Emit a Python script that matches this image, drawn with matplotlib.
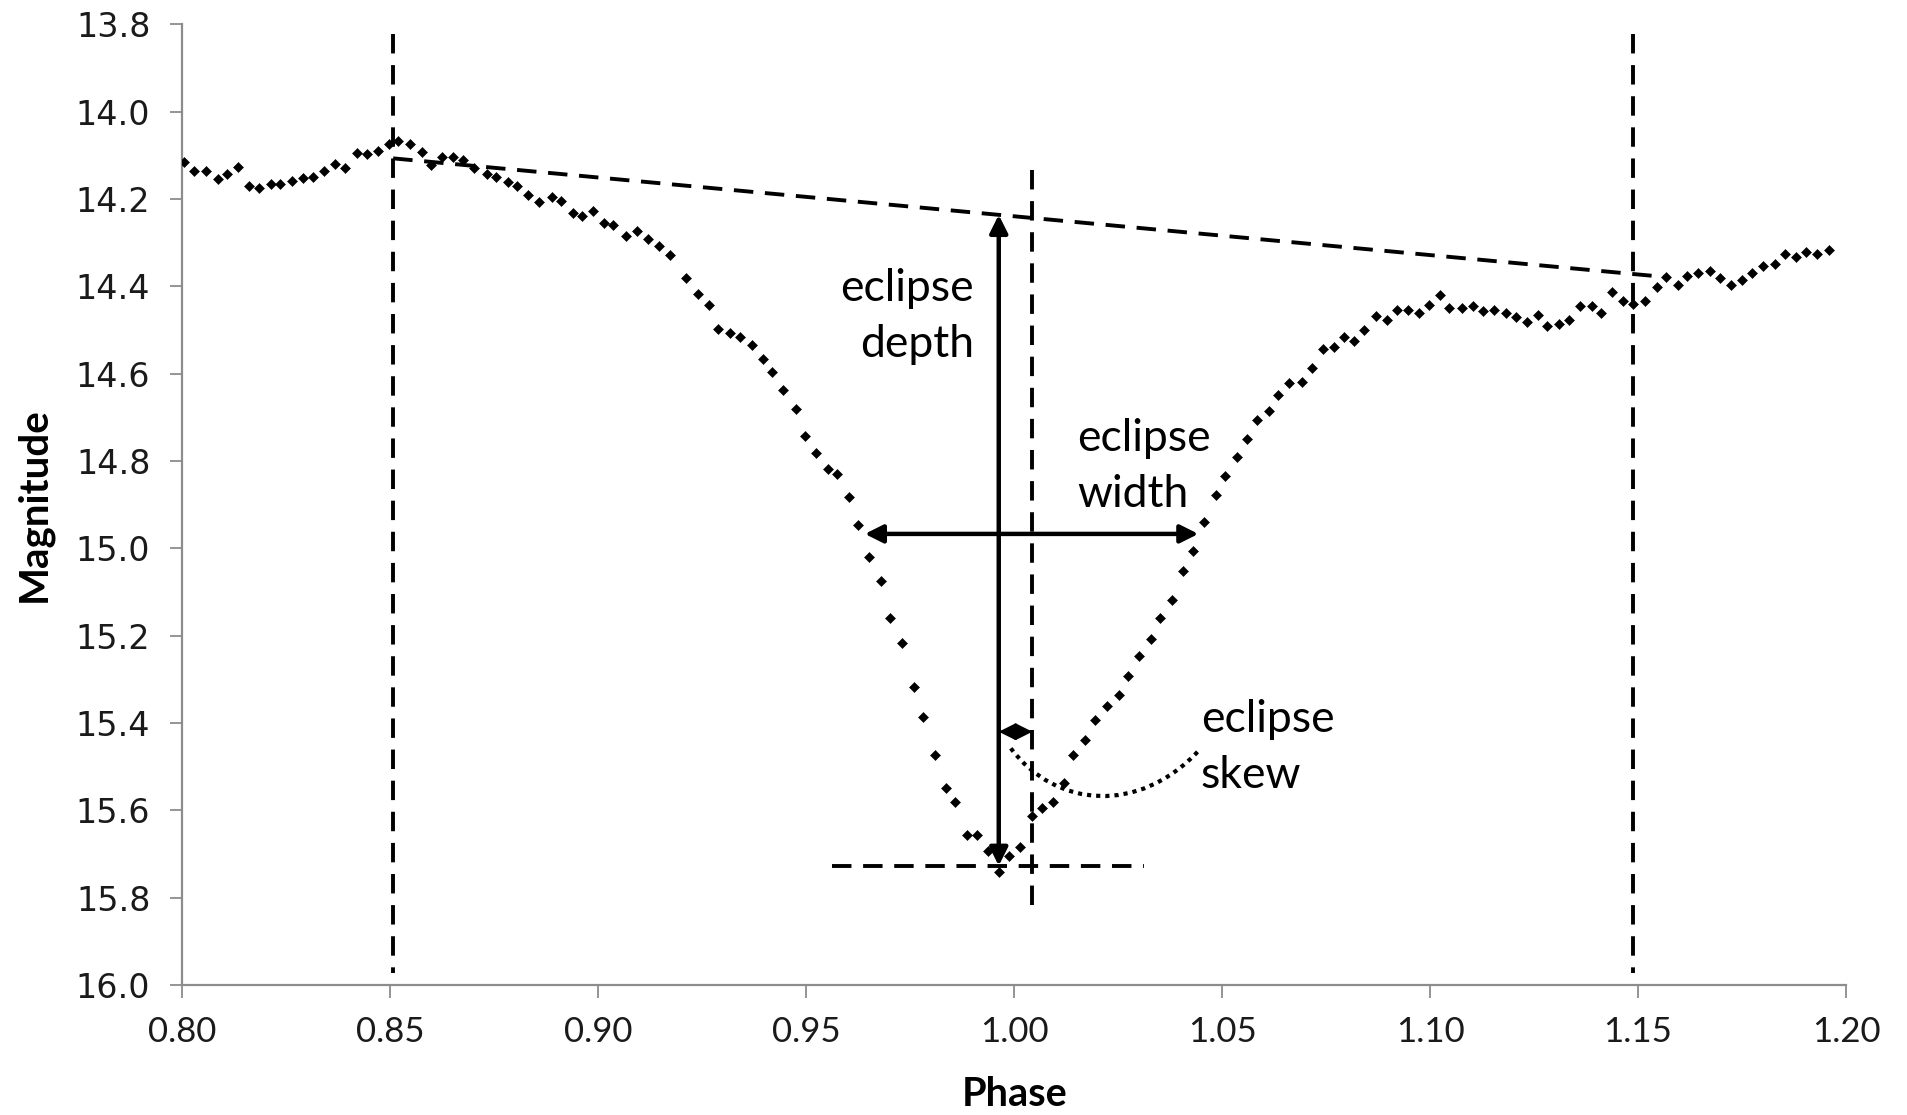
import matplotlib
matplotlib.use("Agg")
import matplotlib.pyplot as plt
from matplotlib.path import Path
from matplotlib.patches import PathPatch
import numpy as np

# Phase-folded light curve around the primary eclipse
phase = [
    0.8005, 0.8029, 0.8056, 0.8085, 0.8107, 0.8135, 0.8161, 0.8184, 0.8213, 0.8235,
    0.8263, 0.8291, 0.8314, 0.8340, 0.8367, 0.8392, 0.8419, 0.8445, 0.8470, 0.8498,
    0.8519, 0.8547, 0.8576, 0.8598, 0.8625, 0.8652, 0.8674, 0.8702, 0.8732, 0.8754,
    0.8782, 0.8804, 0.8832, 0.8858, 0.8888, 0.8911, 0.8939, 0.8962, 0.8988, 0.9014,
    0.9036, 0.9067, 0.9094, 0.9119, 0.9145, 0.9172, 0.9211, 0.9239, 0.9267, 0.9289,
    0.9317, 0.9341, 0.9369, 0.9396, 0.9419, 0.9445, 0.9476, 0.9497, 0.9524, 0.9553,
    0.9575, 0.9602, 0.9625, 0.9652, 0.9680, 0.9702, 0.9731, 0.9759, 0.9781, 0.9809,
    0.9836, 0.9859, 0.9887, 0.9910, 0.9938, 0.9964, 0.9988, 1.0014, 1.0044, 1.0066,
    1.0093, 1.0121, 1.0142, 1.0170, 1.0194, 1.0223, 1.0251, 1.0273, 1.0300, 1.0328,
    1.0351, 1.0379, 1.0407, 1.0431, 1.0457, 1.0485, 1.0507, 1.0536, 1.0559, 1.0585,
    1.0613, 1.0635, 1.0662, 1.0691, 1.0716, 1.0742, 1.0769, 1.0792, 1.0817, 1.0840,
    1.0870, 1.0897, 1.0920, 1.0948, 1.0974, 1.0998, 1.1024, 1.1046, 1.1076, 1.1103,
    1.1127, 1.1154, 1.1183, 1.1206, 1.1233, 1.1259, 1.1282, 1.1309, 1.1333, 1.1361,
    1.1389, 1.1410, 1.1438, 1.1465, 1.1489, 1.1517, 1.1545, 1.1567, 1.1595, 1.1617,
    1.1645, 1.1673, 1.1697, 1.1724, 1.1751, 1.1775, 1.1801, 1.1829, 1.1853, 1.1880,
    1.1903, 1.1930, 1.1958,
]
magnitude = [
    14.116, 14.137, 14.135, 14.154, 14.143, 14.127, 14.170, 14.176, 14.165, 14.165,
    14.158, 14.152, 14.149, 14.137, 14.120, 14.128, 14.095, 14.097, 14.089, 14.074,
    14.068, 14.073, 14.093, 14.122, 14.105, 14.104, 14.110, 14.128, 14.143, 14.149,
    14.160, 14.170, 14.190, 14.206, 14.195, 14.205, 14.233, 14.240, 14.227, 14.255,
    14.259, 14.285, 14.274, 14.292, 14.307, 14.328, 14.380, 14.417, 14.443, 14.497,
    14.506, 14.517, 14.534, 14.567, 14.597, 14.637, 14.680, 14.742, 14.782, 14.818,
    14.829, 14.882, 14.946, 15.020, 15.074, 15.159, 15.216, 15.318, 15.386, 15.474,
    15.549, 15.581, 15.657, 15.657, 15.693, 15.742, 15.704, 15.683, 15.613, 15.594,
    15.581, 15.538, 15.474, 15.440, 15.393, 15.362, 15.336, 15.292, 15.246, 15.208,
    15.160, 15.118, 15.053, 15.005, 14.940, 14.879, 14.835, 14.792, 14.750, 14.707,
    14.686, 14.648, 14.622, 14.618, 14.587, 14.544, 14.539, 14.517, 14.525, 14.501,
    14.469, 14.477, 14.454, 14.454, 14.462, 14.443, 14.421, 14.450, 14.450, 14.444,
    14.456, 14.454, 14.460, 14.471, 14.482, 14.466, 14.492, 14.487, 14.476, 14.444,
    14.444, 14.460, 14.412, 14.434, 14.441, 14.433, 14.402, 14.379, 14.397, 14.376,
    14.369, 14.364, 14.382, 14.397, 14.386, 14.369, 14.353, 14.349, 14.327, 14.334,
    14.322, 14.327, 14.317,
]

x_ticks = [0.80, 0.85, 0.90, 0.95, 1.00, 1.05, 1.10, 1.15, 1.20]
y_ticks = [13.8, 14.0, 14.2, 14.4, 14.6, 14.8, 15.0, 15.2, 15.4, 15.6, 15.8, 16.0]

# Eclipse geometry
ingress_phase = 0.8507
egress_phase = 1.1489
centre_phase = 1.0044          # midpoint of the eclipse width
minimum_phase = 0.9963         # phase of light minimum
baseline_phase = [0.8507, 1.1569]
baseline_mag = [14.107, 14.379]
minimum_mag = 15.727
width_mag = 14.967
width_phase = [0.9641, 1.0443]
skew_mag = 15.420

AXIS_GREY = "#8c8c8c"
DASH = (0, (5, 3))
DASH_LW = 2.8

fig = plt.figure(figsize=(19.08, 11.15), dpi=100)
ax = fig.add_axes([0.09554, 0.11659, 0.87196, 0.86161])

ax.plot(phase, magnitude, ls="none", marker="D", ms=5.6, color="black",
        mec="black", mew=0.4, zorder=3)

ax.set_xlim(0.80, 1.20)
ax.set_ylim(16.0, 13.8)
ax.set_xticks(x_ticks, labels=[f"{v:.2f}" for v in x_ticks],
              fontfamily="Lato", fontsize=25, color="#1a1a1a")
ax.set_yticks(y_ticks, labels=[f"{v:.1f}" for v in y_ticks],
              fontfamily="DejaVu Sans", fontsize=24, color="#1a1a1a")

for side in ("top", "right"):
    ax.spines[side].set_visible(False)
for side in ("left", "bottom"):
    ax.spines[side].set_color(AXIS_GREY)
    ax.spines[side].set_linewidth(1.6)
ax.tick_params(direction="out", length=9, width=1.3, color=AXIS_GREY)
ax.tick_params(axis="y", pad=14)
ax.tick_params(axis="x", pad=13)

ax.set_xlabel("Phase", fontfamily="Lato", fontweight="bold", fontsize=28.5)
ax.set_ylabel("Magnitude", fontfamily="Lato", fontweight="bold", fontsize=29)
ax.xaxis.label.set_va("center")
ax.yaxis.label.set_va("center")
ax.xaxis.set_label_coords(0.5, -0.1135)
ax.yaxis.set_label_coords(-0.089, 0.5)

# Contact lines and eclipse centre
ax.plot([ingress_phase] * 2, [13.822, 15.973], ls=DASH, color="black", lw=DASH_LW)
ax.plot([egress_phase] * 2, [13.822, 15.973], ls=DASH, color="black", lw=DASH_LW)
ax.plot([centre_phase] * 2, [14.134, 15.835], ls=DASH, color="black", lw=DASH_LW)

# Out-of-eclipse baseline and minimum level
ax.plot(baseline_phase, baseline_mag, ls=DASH, color="black", lw=DASH_LW)
ax.plot([0.9563, 1.0312], [minimum_mag] * 2, ls=DASH, color="black", lw=DASH_LW)

depth_top = float(np.interp(minimum_phase, baseline_phase, baseline_mag))
arrow = dict(arrowstyle="<|-|>,head_length=0.6,head_width=0.3",
             color="black", lw=3.2, mutation_scale=18, shrinkA=0, shrinkB=0)
ax.annotate("", xy=(minimum_phase, depth_top), xytext=(minimum_phase, minimum_mag),
            arrowprops=arrow)
ax.annotate("", xy=(width_phase[0], width_mag), xytext=(width_phase[1], width_mag),
            arrowprops=arrow)
small_arrow = dict(arrowstyle="<|-|>,head_length=0.6,head_width=0.3",
                   color="black", lw=1.8, mutation_scale=17, shrinkA=0, shrinkB=0)
ax.annotate("", xy=(minimum_phase, skew_mag), xytext=(centre_phase, skew_mag),
            arrowprops=small_arrow)

# Dotted leader from the skew arrow to its label
leader = Path([(0.9992, 15.458), (1.010, 15.595), (1.030, 15.610), (1.0443, 15.464)],
              [Path.MOVETO, Path.CURVE4, Path.CURVE4, Path.CURVE4])
ax.add_patch(PathPatch(leader, fill=False, ls=(0, (1, 1.2)), lw=3.0,
                       edgecolor="black"))

text_style = dict(fontfamily="Lato", fontsize=32, color="black", linespacing=1.45,
                  va="center")
ax.text(0.9904, 14.470, "eclipse\ndepth", ha="right", multialignment="right",
        **text_style)
ax.text(1.0151, 14.813, "eclipse\nwidth", ha="left", multialignment="left",
        **text_style)
ax.text(1.0449, 15.457, "eclipse\nskew", ha="left", multialignment="left",
        **text_style)

fig.savefig("out.png", dpi=100, facecolor="white")
